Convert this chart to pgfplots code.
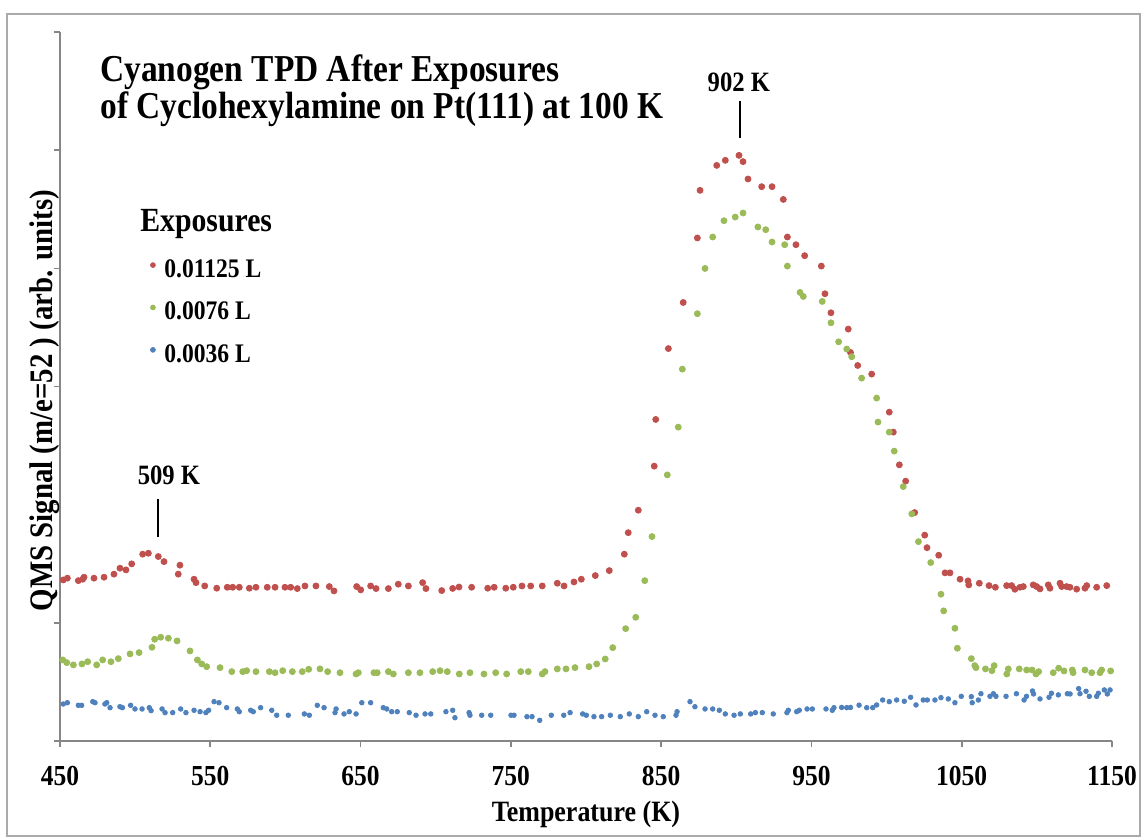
\documentclass[border=0pt]{standalone}
\usepackage{fontspec}
\setmainfont{Liberation Serif}[FakeStretch=0.88]
\usepackage{pgfplots}
\pgfplotsset{compat=1.18}
\definecolor{exred}{HTML}{C0504D}
\definecolor{exgreen}{HTML}{9BBB59}
\definecolor{exblue}{HTML}{4F81BD}
\definecolor{axgray}{HTML}{868686}

\begin{document}
\begin{tikzpicture}
\useasboundingbox (0,0) rectangle (573.5pt,420pt);
\draw[axgray!70, line width=0.6pt] (3.5pt,2pt) rectangle (570pt,413pt);
\begin{axis}[
  at={(30pt,49.5pt)}, anchor=south west,
  scale only axis, width=526pt, height=354.5pt,
  xmin=450, xmax=1150, ymin=0, ymax=6,
  axis x line*=bottom, axis y line*=left,
  axis line style={-, draw=axgray, line width=0.8pt},
  tick style={draw=axgray, line width=0.8pt},
  tick align=outside, major tick length=3pt,
  xtick={450,550,...,1150}, ytick={0,1,...,6}, yticklabels={},
  /pgf/number format/1000 sep={},
  /pgf/number format/assume math mode=true,
  xticklabel style={font=\bfseries\fontsize{14.5}{15}\selectfont, yshift=-6pt},
  xlabel={Temperature (K)},
  ylabel={QMS Signal (m/e=52 ) (arb. units)},
  xlabel style={font=\bfseries\fontsize{14.75}{15}\selectfont, at={(axis description cs:0.5,-0.104)}, anchor=center},
  ylabel style={font=\bfseries\fontsize{16.4}{17}\selectfont, at={(axis description cs:-0.0143,0.48)}, anchor=center, rotate=0},
  clip=false,
  legend cell align=left,
  legend style={at={(axis description cs:0.0853,0.680)}, anchor=north west,
    draw=none, fill=none, inner sep=0pt, row sep=12.2pt, column sep=4.3pt,
    font=\bfseries\fontsize{13.4}{14}\selectfont,
    nodes={inner sep=0pt, text height=9pt, text depth=0pt}},
  legend image code/.code={\fill (1.2pt,1.6pt) circle (1.2pt);},
]
% 0.01125 L
\addplot[only marks, mark=*, mark size=1.5pt, color=exred, mark options={draw=none}] coordinates {
(452.2,1.363) (454.9,1.378) (462.2,1.357) (465.1,1.369) (466.0,1.386) (472.6,1.378)
(479.3,1.386) (485.9,1.412) (489.9,1.462) (493.9,1.448) (497.7,1.499) (505.0,1.581)
(508.8,1.589) (515.4,1.561) (519.2,1.518) (528.7,1.412) (529.8,1.488) (539.2,1.369)
(540.5,1.340) (546.3,1.312) (554.3,1.293) (561.3,1.301) (564.9,1.301) (569.3,1.301)
(576.0,1.293) (580.4,1.301) (587.9,1.301) (593.1,1.301) (599.7,1.301) (603.5,1.301)
(607.9,1.290) (613.0,1.312) (620.3,1.312) (629.2,1.307) (632.3,1.270) (647.4,1.307)
(650.1,1.279) (656.7,1.312) (660.3,1.290) (668.5,1.290) (675.1,1.327) (681.8,1.312)
(691.3,1.340) (693.5,1.290) (704.0,1.273) (711.3,1.291) (715.5,1.303) (723.9,1.301)
(734.6,1.293) (738.9,1.301) (746.6,1.293) (751.6,1.301) (757.4,1.312) (763.2,1.312)
(770.9,1.312) (780.9,1.335) (785.4,1.312) (792.0,1.346) (796.9,1.369) (806.2,1.400)
(815.5,1.442) (825.5,1.581) (828.1,1.763) (834.8,1.953) (845.4,2.326) (846.4,2.721)
(854.8,3.321) (864.7,3.711) (874.1,4.257) (875.9,4.660) (887.0,4.871) (892.7,4.914)
(901.8,4.956) (904.5,4.903) (907.8,4.756) (916.9,4.691) (923.8,4.691) (931.3,4.583)
(934.0,4.265) (939.7,4.200) (945.5,4.107) (956.6,4.019) (959.0,3.785) (963.0,3.624)
(974.5,3.486) (976.0,3.288) (980.8,3.178) (990.1,3.105) (1001.8,2.783) (1004.5,2.614)
(1008.5,2.337) (1012.7,2.199) (1018.7,1.933) (1025.4,1.742) (1026.9,1.636) (1034.7,1.572)
(1038.9,1.423) (1042.2,1.423) (1048.9,1.369) (1054.2,1.355) (1054.7,1.321) (1061.7,1.335)
(1068.2,1.315) (1072.4,1.301) (1079.9,1.315) (1083.2,1.315) (1085.4,1.284) (1088.8,1.301)
(1091.0,1.307) (1097.6,1.321) (1099.9,1.307) (1102.1,1.287) (1107.6,1.321) (1108.7,1.293)
(1115.4,1.335) (1116.5,1.307) (1119.8,1.307) (1122.0,1.301) (1126.5,1.285) (1132.0,1.293)
(1133.2,1.315) (1139.8,1.301) (1146.5,1.315)
};
\addlegendentry{0.01125 L}
% 0.0076 L
\addplot[only marks, mark=*, mark size=1.5pt, color=exgreen, mark options={draw=none}] coordinates {
(451.8,0.686) (454.5,0.663) (458.9,0.644) (464.6,0.652) (468.4,0.671) (474.4,0.644)
(478.4,0.686) (483.9,0.671) (488.8,0.697) (496.6,0.737) (502.6,0.748) (511.2,0.793)
(513.0,0.861) (517.0,0.878) (522.1,0.870) (527.9,0.847) (536.5,0.762) (541.4,0.686)
(544.3,0.652) (547.6,0.629) (556.5,0.621) (564.3,0.587) (571.6,0.587) (574.2,0.595)
(580.4,0.587) (589.3,0.587) (593.1,0.578) (598.2,0.595) (604.6,0.587) (611.2,0.587)
(615.5,0.607) (623.0,0.610) (628.1,0.587) (636.3,0.578) (647.0,0.567) (648.5,0.578)
(658.9,0.578) (661.1,0.578) (668.5,0.587) (671.8,0.567) (681.8,0.578) (689.5,0.578)
(698.0,0.587) (702.9,0.595) (707.7,0.587) (715.7,0.567) (722.8,0.578) (732.1,0.567)
(739.9,0.578) (747.2,0.567) (756.6,0.587) (761.6,0.587) (770.9,0.567) (772.7,0.587)
(780.9,0.610) (786.7,0.610) (792.7,0.621) (802.0,0.629) (807.1,0.652) (812.8,0.694)
(817.8,0.790) (826.4,0.951) (833.1,1.047) (839.1,1.357) (843.9,1.730) (854.1,2.252)
(861.4,2.656) (864.1,3.147) (874.1,3.616) (879.2,3.999) (884.3,4.265) (891.8,4.403)
(899.3,4.434) (904.5,4.468) (914.4,4.350) (919.6,4.327) (923.8,4.223) (932.2,4.200)
(934.0,4.019) (942.4,3.796) (944.6,3.762) (957.2,3.720) (963.0,3.539) (968.1,3.378)
(973.5,3.317) (976.8,3.252) (983.4,3.071) (993.4,2.902) (994.3,2.699) (1001.8,2.614)
(1005.1,2.453) (1011.1,2.153) (1016.8,1.922) (1021.2,1.687) (1029.4,1.510) (1036.2,1.242)
(1038.0,1.101) (1045.5,0.954) (1047.1,0.785) (1056.4,0.697) (1058.7,0.638) (1059.5,0.621)
(1065.8,0.610) (1070.1,0.595) (1071.6,0.638) (1080.0,0.567) (1081.0,0.610) (1088.3,0.610)
(1093.2,0.601) (1096.8,0.601) (1099.4,0.567) (1101.2,0.587) (1110.9,0.578) (1114.5,0.616)
(1118.1,0.593) (1123.6,0.601) (1124.1,0.578) (1132.0,0.601) (1136.5,0.578) (1142.0,0.578)
(1143.1,0.601) (1149.1,0.593)
};
\addlegendentry{0.0076 L}
% 0.0036 L
\addplot[only marks, mark=*, mark size=1.15pt, color=exblue, mark options={draw=none}] coordinates {
(452.2,0.313) (454.9,0.324) (462.2,0.302) (464.4,0.302) (471.8,0.333) (473.3,0.324)
(479.9,0.313) (481.1,0.324) (483.3,0.282) (489.9,0.290) (491.5,0.282) (497.0,0.302)
(499.9,0.271) (504.6,0.271) (509.4,0.282) (510.6,0.257) (517.9,0.271) (519.9,0.240)
(525.0,0.240) (530.3,0.271) (533.8,0.240) (539.2,0.260) (543.2,0.248) (547.1,0.240)
(548.9,0.260) (552.5,0.333) (555.8,0.324) (560.9,0.282) (568.0,0.271) (569.3,0.248)
(576.9,0.260) (578.6,0.248) (583.5,0.282) (590.9,0.260) (594.2,0.218) (601.9,0.218)
(612.6,0.229) (615.9,0.218) (621.2,0.302) (625.7,0.282) (633.0,0.240) (633.7,0.271)
(639.0,0.229) (642.5,0.248) (647.0,0.229) (650.8,0.324) (656.7,0.324) (665.1,0.282)
(667.4,0.271) (670.7,0.248) (674.4,0.248) (682.4,0.240) (686.9,0.218) (692.9,0.229)
(696.7,0.229) (706.8,0.248) (711.3,0.260) (712.8,0.197) (722.2,0.240) (722.8,0.218)
(730.6,0.218) (736.6,0.218) (750.1,0.218) (752.1,0.218) (760.7,0.206) (764.1,0.206)
(769.2,0.175) (776.9,0.218) (785.2,0.218) (789.4,0.240) (797.8,0.229) (800.2,0.218)
(805.3,0.206) (810.4,0.206) (816.2,0.218) (822.8,0.206) (828.8,0.229) (834.8,0.206)
(840.4,0.248) (845.9,0.218) (851.4,0.206) (859.9,0.218) (860.6,0.248) (869.2,0.333)
(872.5,0.290) (879.2,0.271) (884.3,0.271) (888.7,0.260) (892.7,0.229) (898.5,0.218)
(902.7,0.229) (909.6,0.229) (912.7,0.240) (917.3,0.240) (924.6,0.229) (933.7,0.240)
(934.6,0.260) (940.2,0.248) (941.9,0.260) (947.1,0.271) (950.6,0.271) (959.7,0.271)
(963.9,0.260) (965.0,0.282) (970.1,0.284) (973.5,0.282) (976.0,0.284) (981.7,0.303)
(986.8,0.282) (990.8,0.282) (993.4,0.305) (997.4,0.347) (1001.8,0.333) (1006.7,0.347)
(1011.8,0.336) (1016.0,0.370) (1019.6,0.305) (1024.4,0.347) (1027.1,0.347) (1032.2,0.347)
(1036.2,0.367) (1041.1,0.356) (1045.5,0.324) (1049.7,0.378) (1056.4,0.375) (1057.0,0.324)
(1061.1,0.347) (1062.8,0.400) (1068.8,0.378) (1071.1,0.400) (1072.8,0.378) (1079.5,0.378)
(1086.4,0.400) (1091.5,0.347) (1093.1,0.378) (1097.1,0.423) (1097.8,0.398) (1102.1,0.356)
(1108.1,0.370) (1109.7,0.404) (1114.3,0.390) (1120.3,0.400) (1122.1,0.398) (1127.8,0.443)
(1128.7,0.400) (1132.7,0.421) (1134.9,0.378) (1139.8,0.378) (1140.9,0.404) (1144.9,0.432)
(1146.9,0.398) (1148.7,0.432)
};
\addlegendentry{0.0036 L}

% title, legend heading and peak markers
\node[anchor=north west, align=left, inner sep=0pt,
  font=\bfseries\fontsize{19}{18.5}\selectfont]
  at (axis description cs:0.038,0.969)
  {Cyanogen TPD After Exposures\\of Cyclohexylamine on Pt(111) at 100 K};
\node[anchor=base west, inner sep=0pt, font=\bfseries\fontsize{16.9}{17}\selectfont]
  at (axis description cs:0.076,0.718) {Exposures};
\draw[black, line width=1pt] (axis cs:515,1.727) -- (axis cs:515,2.049);
\node[anchor=base, inner sep=0pt, font=\bfseries\fontsize{14}{14}\selectfont]
  at (axis cs:522.5,2.168) {509 K};
\draw[black, line width=1pt] (axis cs:902.4,5.106) -- (axis cs:902.4,5.419);
\node[anchor=base, inner sep=0pt, font=\bfseries\fontsize{14}{14}\selectfont]
  at (axis cs:901.7,5.495) {902 K};
\end{axis}
\end{tikzpicture}
\end{document}
